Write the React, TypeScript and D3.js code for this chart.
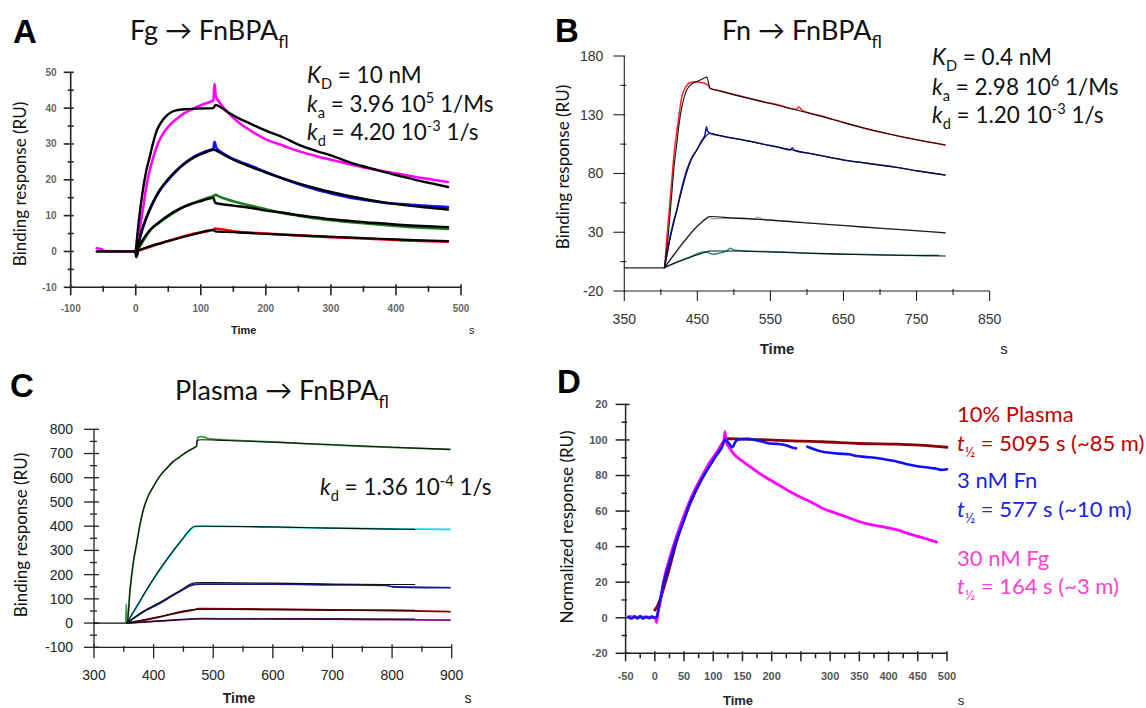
import React from 'react';
import * as d3 from 'd3';

type P = [number, number];

// ---------- Panel A : Fg -> FnBPAfl ----------
const A_X_TICKS = [-100, 0, 100, 200, 300, 400, 500];
const A_X_MINOR = [-50, 50, 150, 250, 350, 450];
const A_Y_TICKS = [-10, 0, 10, 20, 30, 40, 50];
const A_Y_MINOR = [-5, 5, 15, 25, 35, 45];
const A_BASE: P[] = [[-60, 0], [-1, 0], [1, -1.6], [3, 0]];
const A_PINK: P[] = [[-60, 0.9], [-53, 0.6], [-47, 0.1], [-1, 0], [2, -1], [6, 5.9], [12, 13], [17, 18.9], [22, 23], [27, 26.3], [35, 30.5], [42, 32.9], [50, 34.8], [63, 37], [75, 38.6], [88, 39.8], [100, 40.8], [114, 41.7], [119.5, 42.2], [121, 46.8], [123, 43.5], [130, 41.3], [145, 38.2], [160, 35.8], [176, 33.8], [200, 31.3], [227, 29.5], [250, 28], [278, 26.6], [300, 25.6], [330, 24.3], [355, 23.3], [381, 22.4], [410, 21.5], [430, 20.8], [455, 20.1], [480, 19.4]];
const A_PINK_FIT: P[] = [[0, 0], [5, 9], [10, 16], [15, 21.5], [22, 26.8], [27, 30.5], [32, 33.6], [40, 36.3], [48, 38], [56, 39], [63, 39.4], [75, 39.7], [100, 39.9], [119, 40], [123, 40.9], [130, 40.3], [145, 38.5], [160, 37], [176, 35.7], [200, 33.7], [227, 31.8], [250, 29.8], [278, 28], [300, 26.8], [330, 24.8], [355, 23.5], [381, 22.2], [410, 20.9], [430, 20], [455, 19], [480, 18]];
const A_BLUE: P[] = [[-1, 0], [2, -1.2], [5, 2.5], [10, 6], [17, 9.6], [25, 13], [37, 17], [50, 20], [63, 22.6], [75, 24.6], [89, 26.4], [105, 27.8], [119.5, 28.7], [121, 30.6], [124, 28.9], [135, 27.3], [150, 25.8], [176, 24], [200, 22.2], [227, 20.3], [250, 18.8], [278, 17.2], [300, 16.2], [330, 15], [355, 14.3], [381, 13.6], [410, 13.2], [440, 12.8], [480, 12.4]];
const A_BLUE_FIT: P[] = [[0, 0], [5, 3], [10, 6.3], [17, 9.8], [25, 13.2], [37, 17.2], [50, 20.2], [63, 22.7], [75, 24.5], [89, 26.2], [105, 27.5], [120, 28.4], [125, 28], [135, 27], [150, 25.6], [176, 23.7], [200, 22], [227, 20.3], [250, 19], [278, 17.6], [300, 16.6], [330, 15.4], [355, 14.5], [381, 13.7], [410, 13], [440, 12.4], [480, 11.7]];
const A_GREEN: P[] = [[0, 0], [5, 1], [10, 2.5], [22, 5.9], [35, 7.9], [48, 9.6], [60, 11], [73, 12.4], [86, 13.4], [99, 14.2], [110, 14.9], [119.5, 15.5], [122, 15.8], [130, 15.2], [150, 14], [176, 12.8], [200, 11.8], [227, 10.7], [250, 10], [278, 9.2], [300, 8.7], [330, 8.2], [355, 7.8], [381, 7.4], [410, 7], [440, 6.6], [480, 6.3]];
const A_GREEN_FIT: P[] = [[0, 0], [5, 1.5], [10, 3], [22, 6], [35, 8], [48, 9.8], [60, 11.2], [73, 12.4], [86, 13.3], [99, 14], [110, 14.6], [119.5, 15], [122, 13.6], [150, 12.8], [176, 12.2], [200, 11.4], [227, 10.8], [250, 10.1], [278, 9.5], [300, 9], [330, 8.5], [355, 8.1], [381, 7.8], [410, 7.4], [440, 7.1], [480, 6.8]];
const A_RED: P[] = [[0, 0], [10, 0.6], [30, 1.8], [60, 3.5], [90, 5], [119.5, 6.1], [122, 6.4], [150, 5.6], [200, 5], [250, 4.5], [300, 4], [350, 3.6], [400, 3.2], [440, 2.9], [480, 2.7]];
const A_RED_FIT: P[] = [[0, 0], [10, 0.7], [30, 1.9], [60, 3.4], [90, 4.8], [119.5, 6], [122, 5.6], [150, 5.4], [200, 4.9], [250, 4.5], [300, 4.1], [350, 3.7], [400, 3.4], [440, 3.1], [480, 2.9]];

// ---------- Panel B : Fn -> FnBPAfl ----------
const B_X_TICKS = [350, 450, 550, 650, 750, 850];
const B_X_MINOR = [400, 500, 600, 700, 800];
const B_Y_TICKS = [-20, 30, 80, 130, 180];
const B_Y_MINOR = [5, 55, 105, 155];
const B_BASE: P[] = [[350, -0.3], [405, -0.3]];
const B_RED: P[] = [[405, -0.3], [410, 38], [415, 74], [418, 96], [422, 116], [425, 130], [428.6, 145], [432, 151], [437.7, 156.5], [441, 157.5], [446.8, 158], [455, 157.5], [460.5, 156.6], [465, 155], [467.4, 152.5], [480, 150.5], [500, 147.3], [513, 145.4], [540, 141], [560, 138.5], [585, 134.5], [589, 136.5], [593, 134], [620, 129], [650, 123.5], [685, 117.5], [718.5, 112.8], [750, 108.7], [789, 104.3]];
const B_RED_FIT: P[] = [[405, 0], [409, 20], [414.9, 62], [418, 85], [421.8, 105], [425, 122], [428.6, 136], [432, 145], [435.5, 151], [440, 155], [444.6, 157], [452, 159], [460.5, 161.5], [463, 162], [465, 158], [467.4, 152.5], [480, 150.3], [513, 145], [550, 139.5], [586, 134], [620, 128.6], [650, 123.3], [685, 117.7], [718.5, 112.8], [750, 108.7], [789, 104.3]];
const B_BLUE: P[] = [[405, -0.3], [408, 10], [412.6, 26], [417, 38], [421.8, 49], [428, 66], [435.5, 83], [442, 93], [449.2, 100], [455, 107], [460.5, 113], [462.5, 119.8], [464, 116], [467.4, 114.2], [480, 112.3], [513, 108.5], [540, 105], [560, 102.5], [577, 100], [580, 102], [583, 99.6], [610, 96.5], [650, 91.5], [685, 88.6], [718.5, 85.8], [750, 82.3], [789, 78.7]];
const B_BLUE_FIT: P[] = [[405, 0], [412.6, 24], [421.8, 48], [428, 64], [435.5, 81], [442, 92], [449.2, 100], [455, 106], [460.5, 111], [467.4, 114.2], [480, 112.3], [513, 108.5], [545, 104.3], [577, 100.4], [610, 96.3], [650, 91.5], [685, 88.4], [718.5, 85.5], [750, 82.2], [789, 78.7]];
const B_GRAY: P[] = [[405, 0], [415, 8], [425, 16], [436, 25], [445, 32], [455, 38], [462, 42], [466, 43.4], [470, 41.5], [480, 41.8], [500, 42], [510, 42.4], [527, 41.4], [533, 42.8], [540, 41], [580, 39.2], [620, 37.2], [650, 35.7], [700, 33.5], [750, 31.3], [789, 29.5]];
const B_GRAY_FIT: P[] = [[405, 0], [415, 8.5], [425, 17], [436, 25.5], [445, 32], [455, 38], [462, 41.5], [467.4, 43.4], [500, 42], [527, 41.2], [580, 38.8], [620, 37], [650, 35.7], [700, 33.4], [750, 31.3], [789, 29.5]];
const B_TEAL: P[] = [[405, 0], [420, 4], [440, 9], [460, 13.5], [467.4, 12], [472, 11.3], [478, 12], [490, 14], [495, 16.4], [500, 15], [520, 14], [560, 13.3], [604, 12.1], [650, 11.5], [700, 10.8], [750, 10.3], [780, 10.5]];
const B_TEAL_FIT: P[] = [[405, 0], [420, 4], [440, 8.6], [460, 12.8], [467.4, 14], [500, 14], [560, 13], [604, 12.1], [650, 11.3], [700, 10.6], [750, 10.2], [789, 9.8]];

// ---------- Panel C : Plasma -> FnBPAfl ----------
const C_X_TICKS = [300, 400, 500, 600, 700, 800, 900];
const C_X_MINOR = [350, 450, 550, 650, 750, 850];
const C_Y_TICKS = [-100, 0, 100, 200, 300, 400, 500, 600, 700, 800];
const C_Y_MINOR = [-50, 50, 150, 250, 350, 450, 550, 650, 750];
const C_BASE: P[] = [[300, 0], [354, 0]];
const C_GREEN: P[] = [[353.5, 0], [354.2, 78], [355, 8], [356, 5.8], [360.4, 136], [366, 250], [371.6, 329], [377, 405], [382.7, 467], [390, 520], [399.5, 563], [410, 605], [421.9, 639], [432, 665], [444.3, 687], [456, 707], [469.5, 726], [472, 730], [474, 765], [480, 770], [490, 763], [520, 756], [560, 752], [612, 746], [660, 740], [700, 736], [750, 730], [800, 725], [850, 721], [897, 717]];
const C_GREEN_FIT: P[] = [[354, 0], [356, 5], [360.4, 136], [366, 250], [371.6, 329], [377, 405], [382.7, 467], [390, 520], [399.5, 563], [410, 605], [421.9, 639], [432, 665], [444.3, 687], [456, 707], [469.5, 726], [472, 730], [473, 755], [480, 757], [520, 754], [612, 746], [700, 736], [800, 726], [897, 717]];
const C_CYAN: P[] = [[355, 0], [370, 60], [388.4, 137], [405, 200], [421.9, 260], [445, 335], [469.5, 398], [480, 400], [520, 399], [600, 396], [700, 392], [800, 389], [897, 387]];
const C_CYAN_FIT: P[] = [[355, 0], [370, 62], [388.4, 138], [405, 203], [421.9, 262], [445, 336], [469.5, 400], [480, 400], [600, 397], [700, 392], [800, 388], [838, 387]];
const C_NAVY: P[] = [[355, 0], [380, 42], [410.7, 82], [440, 125], [469.5, 160], [480, 161], [600, 161], [700, 158], [790, 156], [800, 150], [897, 146]];
const C_NAVY_FIT: P[] = [[355, 0], [380, 45], [410.7, 86], [440, 128], [469.5, 166], [480, 167], [600, 165], [700, 161], [838, 159]];
const C_DKRED: P[] = [[355, 0], [380, 10], [410.7, 26], [440, 42], [469.5, 56], [475, 60], [490, 60], [600, 57], [700, 54], [800, 52], [897, 47]];
const C_DKRED_FIT: P[] = [[355, 0], [410.7, 27], [469.5, 56], [480, 56], [600, 55], [700, 54], [838, 53]];
const C_PURPLE: P[] = [[355, 0], [420, 10], [469.5, 17], [480, 18], [560, 17], [700, 16], [800, 14], [897, 12]];
const C_PURPLE_FIT: P[] = [[355, 0], [420, 10], [475, 18], [600, 18], [700, 17.5], [838, 17]];

// ---------- Panel D : normalized ----------
const D_X_TICKS = [-50, 0, 50, 100, 150, 200, 250, 300, 350, 400, 450, 500];
const D_X_LABELS = ['-50', '0', '50', '100', '150', '200', '', '300', '350', '400', '450', '500'];
const D_X_MINOR = [-25, 25, 75, 125, 175, 225, 275, 325, 375, 425, 475];
const D_Y_TICKS = [-20, 0, 20, 40, 60, 80, 100, 120];
const D_Y_LABELS = ['-20', '0', '20', '40', '60', '80', '100', '20'];
const D_Y_MINOR = [-10, 10, 30, 50, 70, 90, 110];
const D_PLASMA: P[] = [[0, 4.3], [5, 7], [20, 22], [40, 46], [60, 64], [80, 78], [100, 89], [120, 100], [123, 100.8], [150, 100.5], [180, 100.2], [223, 99.6], [287, 99], [351, 98], [415, 97.6], [460, 97], [500, 95.9]];
const D_FN_1: P[] = [[-45, 0.5], [-40, -0.6], [-35, 0.8], [-30, -0.4], [-25, 0.9], [-20, -0.5], [-15, 0.6], [-10, -0.3], [-5, 0.7], [0, 0], [3, 0.5], [8, 8], [14.5, 18.7], [25, 31], [37.4, 43.9], [50, 55], [60.2, 64.5], [70, 71.5], [83, 79.4], [95, 86], [105.9, 91.6], [115, 96], [120, 100], [126, 98.5], [132.6, 95.9], [138, 99], [145, 100.4], [160, 100.6], [171, 100], [185, 99], [197, 98], [210, 97.8], [223, 97.2], [235, 95.8], [241.7, 95.3]];
const D_FN_2: P[] = [[261, 96.2], [275, 94.5], [287, 93.4], [300, 92.8], [315, 92.3], [331.8, 92], [345, 91], [360, 90.5], [383, 89.7], [400, 88.7], [415, 87.8], [430, 86.5], [447, 85.4], [465, 84.6], [479, 84], [490, 83.2], [500, 83.5]];
const D_FG: P[] = [[-45, 0.6], [-30, 0.4], [-15, 0.3], [0, 0.2], [2, -1], [3, -2.8], [5, 2], [10, 10], [14.5, 19.5], [25, 33], [37.4, 46], [50, 57.5], [60.2, 66], [70, 73], [83, 81], [95, 88], [105.9, 93], [115, 97.5], [119, 101], [120, 104.7], [122, 99], [127, 96], [134.3, 92.5], [148, 88.5], [163, 85], [180, 81], [197, 77.6], [214, 74.3], [231, 71], [248, 68], [265.5, 65.4], [287, 61.6], [310, 58.8], [330, 56.5], [351, 54], [372, 52.2], [393, 51], [415, 49.4], [435, 47.2], [455, 45.3], [470, 43.8], [482, 42.6]];

const TXT = "Lato, 'Open Sans', sans-serif";
const AXF = "'Liberation Sans', Arial, sans-serif";

type Part = [string, string];

function rich(parts: Part[], size: number) {
  let shift = 0;
  return parts.map(([t, k], i) => {
    const target = k === 'sub' ? size * 0.28 : k === 'sup' ? -size * 0.38 : 0;
    const dy = target - shift;
    shift = target;
    const small = k === 'sub' || k === 'sup';
    return (
      <tspan key={i} dy={dy} fontSize={small ? size * 0.65 : size} fontStyle={k === 'i' ? 'italic' : 'normal'}>
        {t}
      </tspan>
    );
  });
}

type TickCfg = { yMajL: number; yMajR: number; yMinL: number; yMinR: number; xMajU: number; xMajD: number; xMinU: number; xMinD: number };

function Axes(props: {
  x: d3.ScaleLinear<number, number>; y: d3.ScaleLinear<number, number>;
  xTicks: number[]; xLabels?: string[]; xMinor: number[];
  yTicks: number[]; yLabels?: string[]; yMinor: number[];
  tk: TickCfg; fs: number; fw: string; fill: string; yOff: number; xOff: number; sw: number;
  time: { x: number; y: number; fs: number; sx: number };
}) {
  const { x, y, tk } = props;
  const x0 = x.range()[0], x1 = x.range()[1];
  const y0 = y.range()[0], y1 = y.range()[1];
  const col = '#222';
  return (
    <g>
      <line x1={x0} x2={x1} y1={y0} y2={y0} stroke={col} strokeWidth={props.sw} />
      <line x1={x0} x2={x0} y1={y0} y2={y1} stroke={col} strokeWidth={props.sw} />
      {props.yTicks.map((v) => (
        <line key={'ym' + v} x1={x0 - tk.yMajL} x2={x0 + tk.yMajR} y1={y(v)} y2={y(v)} stroke={col} strokeWidth={props.sw} />
      ))}
      {props.yMinor.map((v) => (
        <line key={'yn' + v} x1={x0 - tk.yMinL} x2={x0 + tk.yMinR} y1={y(v)} y2={y(v)} stroke={col} strokeWidth={props.sw} />
      ))}
      {props.xTicks.map((v) => (
        <line key={'xm' + v} x1={x(v)} x2={x(v)} y1={y0 - tk.xMajU} y2={y0 + tk.xMajD} stroke={col} strokeWidth={props.sw} />
      ))}
      {props.xMinor.map((v) => (
        <line key={'xn' + v} x1={x(v)} x2={x(v)} y1={y0 - tk.xMinU} y2={y0 + tk.xMinD} stroke={col} strokeWidth={props.sw} />
      ))}
      {props.yTicks.map((v, i) => (
        <text key={'yl' + v} x={x0 - props.yOff} y={y(v)} dy="0.35em" textAnchor="end" fontFamily={AXF} fontSize={props.fs} fontWeight={props.fw} fill={props.fill}>
          {props.yLabels ? props.yLabels[i] : String(v)}
        </text>
      ))}
      {props.xTicks.map((v, i) => (
        <text key={'xl' + v} x={x(v)} y={y0 + props.xOff} dy="0.35em" textAnchor="middle" fontFamily={AXF} fontSize={props.fs} fontWeight={props.fw} fill={props.fill}>
          {props.xLabels ? props.xLabels[i] : String(v)}
        </text>
      ))}
      <text x={props.time.x} y={props.time.y} textAnchor="middle" fontFamily={AXF} fontSize={props.time.fs} fontWeight="bold" fill="#222">Time</text>
      <text x={props.time.sx} y={props.time.y} textAnchor="middle" fontFamily={AXF} fontSize={props.time.fs} fill="#222">s</text>
    </g>
  );
}

function Series({ data, x, y, color, w }: { data: P[]; x: any; y: any; color: string; w: number }) {
  const gen = d3.line<P>().x((d) => x(d[0])).y((d) => y(d[1])).curve(d3.curveMonotoneX);
  return <path d={gen(data) || ''} fill="none" stroke={color} strokeWidth={w} strokeLinejoin="round" strokeLinecap="round" />;
}

function YLabel({ x, y, text, fs }: { x: number; y: number; text: string; fs: number }) {
  return (
    <text transform={`translate(${x},${y}) rotate(-90)`} textAnchor="middle" dy="0.35em" fontFamily={TXT} fontSize={fs} fill="#111">
      {text}
    </text>
  );
}

function Title({ x, y, main, fs }: { x: number; y: number; main: string; fs: number }) {
  return (
    <text x={x} y={y} fontFamily={TXT} fontSize={fs} fill="#111">
      {rich([[main, 'n'], ['fl', 'sub']], fs)}
    </text>
  );
}

function Letter({ x, y, t }: { x: number; y: number; t: string }) {
  return <text x={x} y={y} fontFamily={AXF} fontWeight="bold" fontSize={33} fill="#000">{t}</text>;
}

export default function App() {
  // Panel A scales
  const ax = d3.scaleLinear().domain([-100, 500]).range([70.7, 461]);
  const ay = d3.scaleLinear().domain([-10, 50]).range([287.3, 72.3]);
  // Panel B
  const bx = d3.scaleLinear().domain([350, 850]).range([624.3, 989.6]);
  const by = d3.scaleLinear().domain([-20, 180]).range([291, 56]);
  // Panel C
  const cx = d3.scaleLinear().domain([300, 900]).range([94, 451.7]);
  const cy = d3.scaleLinear().domain([-100, 800]).range([647.3, 429.3]);
  // Panel D
  const dx = d3.scaleLinear().domain([-50, 500]).range([625.6, 947]);
  const dy = d3.scaleLinear().domain([-20, 120]).range([653.3, 404.4]);

  const annFs = 22.5;
  const legFs = 22;
  const titleFs = 27;

  return (
    <svg width={1146} height={708} style={{ position: 'absolute', left: 0, top: 0, background: '#fff' }}>
      <rect x={0} y={0} width={1146} height={708} fill="#fff" />
      {/* ---------- A ---------- */}
      <Letter x={13} y={43} t="A" />
      <Title x={130} y={40} main="Fg → FnBPA" fs={titleFs} />
      <YLabel x={20} y={184} text="Binding response (RU)" fs={17} />
      <Axes x={ax} y={ay} xTicks={A_X_TICKS} xMinor={A_X_MINOR} yTicks={A_Y_TICKS} yMinor={A_Y_MINOR}
        tk={{ yMajL: 7, yMajR: 3, yMinL: 3, yMinR: 3, xMajU: 3, xMajD: 8, xMinU: 1.5, xMinD: 4.5 }}
        fs={10} fw="bold" fill="#666" yOff={14} xOff={21} sw={1.6}
        time={{ x: 243.7, y: 334, fs: 11, sx: 471.7 }} />
      <Series data={A_PINK} x={ax} y={ay} color="#ff00ff" w={2.6} />
      <Series data={A_BLUE} x={ax} y={ay} color="#1010ff" w={2.6} />
      <Series data={A_GREEN} x={ax} y={ay} color="#1e7d1e" w={2.6} />
      <Series data={A_RED} x={ax} y={ay} color="#ff0000" w={2.6} />
      <Series data={A_BASE} x={ax} y={ay} color="#000" w={2.4} />
      <Series data={A_PINK_FIT} x={ax} y={ay} color="#000" w={2.4} />
      <Series data={A_BLUE_FIT} x={ax} y={ay} color="#000" w={2.4} />
      <Series data={A_GREEN_FIT} x={ax} y={ay} color="#000" w={2.4} />
      <Series data={A_RED_FIT} x={ax} y={ay} color="#000" w={2.2} />
      <g fontFamily={TXT} fill="#111">
        <text x={307} y={83}>{rich([['K', 'i'], ['D', 'sub'], [' = 10 nM', 'n']], annFs)}</text>
        <text x={307} y={112}>{rich([['k', 'i'], ['a', 'sub'], [' = 3.96 10', 'n'], ['5', 'sup'], [' 1/Ms', 'n']], annFs)}</text>
        <text x={307} y={140}>{rich([['k', 'i'], ['d', 'sub'], [' = 4.20 10', 'n'], ['-3', 'sup'], [' 1/s', 'n']], annFs)}</text>
      </g>

      {/* ---------- B ---------- */}
      <Letter x={555} y={42} t="B" />
      <Title x={722} y={40} main="Fn → FnBPA" fs={titleFs} />
      <YLabel x={563} y={167} text="Binding response (RU)" fs={17} />
      <Axes x={bx} y={by} xTicks={B_X_TICKS} xMinor={B_X_MINOR} yTicks={B_Y_TICKS} yMinor={B_Y_MINOR}
        tk={{ yMajL: 11, yMajR: 1, yMinL: 4, yMinR: 2, xMajU: 0, xMajD: 10, xMinU: 2, xMinD: 4 }}
        fs={14} fw="normal" fill="#333" yOff={21} xOff={28} sw={1.1}
        time={{ x: 777, y: 354, fs: 15, sx: 1004 }} />
      <Series data={B_RED} x={bx} y={by} color="#ff2020" w={1.5} />
      <Series data={B_BLUE} x={bx} y={by} color="#1010e0" w={1.5} />
      <Series data={B_GRAY} x={bx} y={by} color="#a8a8a8" w={1.5} />
      <Series data={B_TEAL} x={bx} y={by} color="#2a8c8c" w={1.5} />
      <Series data={B_BASE} x={bx} y={by} color="#222" w={1.3} />
      <Series data={B_RED_FIT} x={bx} y={by} color="#111" w={1.1} />
      <Series data={B_BLUE_FIT} x={bx} y={by} color="#111" w={1.1} />
      <Series data={B_GRAY_FIT} x={bx} y={by} color="#111" w={1.1} />
      <Series data={B_TEAL_FIT} x={bx} y={by} color="#111" w={1.1} />
      <g fontFamily={TXT} fill="#111">
        <text x={932} y={65}>{rich([['K', 'i'], ['D', 'sub'], [' = 0.4 nM', 'n']], annFs)}</text>
        <text x={932} y={95}>{rich([['k', 'i'], ['a', 'sub'], [' = 2.98 10', 'n'], ['6', 'sup'], [' 1/Ms', 'n']], annFs)}</text>
        <text x={932} y={123}>{rich([['k', 'i'], ['d', 'sub'], [' = 1.20 10', 'n'], ['-3', 'sup'], [' 1/s', 'n']], annFs)}</text>
      </g>

      {/* ---------- C ---------- */}
      <Letter x={10} y={397} t="C" />
      <Title x={175} y={400} main="Plasma → FnBPA" fs={titleFs} />
      <YLabel x={21} y={535} text="Binding response (RU)" fs={17} />
      <Axes x={cx} y={cy} xTicks={C_X_TICKS} xMinor={C_X_MINOR} yTicks={C_Y_TICKS} yMinor={C_Y_MINOR}
        tk={{ yMajL: 10, yMajR: 5, yMinL: 4, yMinR: 3, xMajU: 3, xMajD: 11, xMinU: 1.5, xMinD: 4.5 }}
        fs={14} fw="normal" fill="#222" yOff={21} xOff={28} sw={1.3}
        time={{ x: 239, y: 703, fs: 14, sx: 468 }} />
      <Series data={C_BASE} x={cx} y={cy} color="#111" w={1.3} />
      <Series data={C_GREEN} x={cx} y={cy} color="#3a9a3a" w={1.8} />
      <Series data={C_CYAN} x={cx} y={cy} color="#00dede" w={1.8} />
      <Series data={C_NAVY} x={cx} y={cy} color="#1a1a8a" w={1.8} />
      <Series data={C_DKRED} x={cx} y={cy} color="#8b0000" w={1.8} />
      <Series data={C_PURPLE} x={cx} y={cy} color="#8a008a" w={1.8} />
      <Series data={C_GREEN_FIT} x={cx} y={cy} color="#111" w={1.1} />
      <Series data={C_CYAN_FIT} x={cx} y={cy} color="#111" w={1.1} />
      <Series data={C_NAVY_FIT} x={cx} y={cy} color="#111" w={1.1} />
      <Series data={C_DKRED_FIT} x={cx} y={cy} color="#111" w={1.1} />
      <Series data={C_PURPLE_FIT} x={cx} y={cy} color="#111" w={1.1} />
      <g fontFamily={TXT} fill="#111">
        <text x={320} y={495}>{rich([['k', 'i'], ['d', 'sub'], [' = 1.36 10', 'n'], ['-4', 'sup'], [' 1/s', 'n']], annFs)}</text>
      </g>

      {/* ---------- D ---------- */}
      <Letter x={557} y={393} t="D" />
      <YLabel x={567} y={527} text="Normalized response (RU)" fs={17} />
      <Axes x={dx} y={dy} xTicks={D_X_TICKS} xLabels={D_X_LABELS} xMinor={D_X_MINOR} yTicks={D_Y_TICKS} yLabels={D_Y_LABELS} yMinor={D_Y_MINOR}
        tk={{ yMajL: 10, yMajR: 4, yMinL: 4, yMinR: 1.5, xMajU: 2, xMajD: 8, xMinU: 0, xMinD: 5 }}
        fs={11} fw="bold" fill="#555" yOff={18} xOff={23} sw={1.5}
        time={{ x: 738, y: 705, fs: 13, sx: 961 }} />
      <Series data={D_PLASMA} x={dx} y={dy} color="#8b0000" w={2.8} />
      <Series data={D_FG} x={dx} y={dy} color="#ff00ff" w={2.8} />
      <Series data={D_FN_1} x={dx} y={dy} color="#1010ff" w={2.6} />
      <Series data={D_FN_2} x={dx} y={dy} color="#1010ff" w={2.6} />
      <g fontFamily={TXT}>
        <text x={957} y={422} fill="#c00000">{rich([['10% Plasma', 'n']], legFs)}</text>
        <text x={957} y={451} fill="#c00000">{rich([['t', 'i'], ['½', 'sub'], [' = 5095 s (~85 m)', 'n']], legFs)}</text>
        <text x={957} y={488} fill="#2020e8">{rich([['3 nM Fn', 'n']], legFs)}</text>
        <text x={957} y={517} fill="#2020e8">{rich([['t', 'i'], ['½', 'sub'], [' = 577 s (~10 m)', 'n']], legFs)}</text>
        <text x={957} y={566} fill="#ff40d0">{rich([['30 nM Fg', 'n']], legFs)}</text>
        <text x={957} y={594} fill="#ff40d0">{rich([['t', 'i'], ['½', 'sub'], [' = 164 s (~3 m)', 'n']], legFs)}</text>
      </g>
    </svg>
  );
}
